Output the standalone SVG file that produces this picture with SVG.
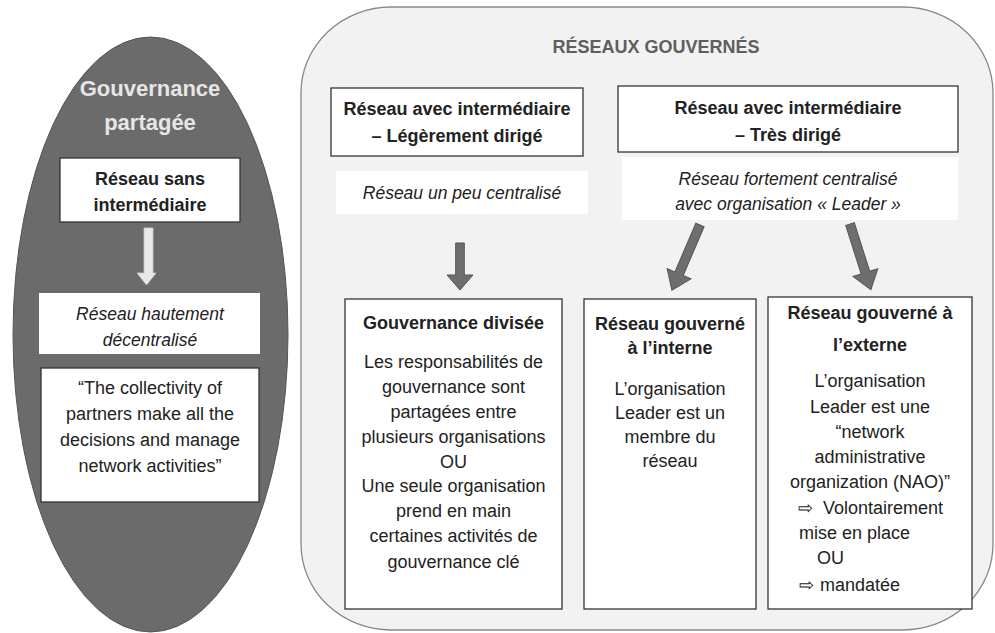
<svg xmlns="http://www.w3.org/2000/svg" width="995" height="633" viewBox="0 0 995 633">
<style>
text{font-family:"Liberation Sans",Arial,sans-serif;font-size:18px;fill:#222;text-anchor:middle}
.b{font-weight:bold}
.i{font-style:italic;font-size:17.5px}
.box{fill:#fff;stroke:#333;stroke-width:1.3}
.wb{fill:#fff;stroke:none}
.da{fill:#6e6e6e;stroke:#555;stroke-width:1}
.la{fill:#e8e8e8;stroke:#ccc;stroke-width:0.8}
.l{text-anchor:start}
</style>
<rect width="995" height="633" fill="#fff"/>
<g id="panel-gouvernes">
<rect x="301" y="7" width="692" height="623" rx="90" ry="86" fill="#f2f2f2" stroke="#888" stroke-width="1.3"/>
<text x="656" y="53" class="b" style="fill:#5f5f5f">RÉSEAUX GOUVERNÉS</text>
</g>
<g id="panel-partagee">
<ellipse cx="150.5" cy="334.5" rx="137.5" ry="297.5" fill="#6b6b6b" stroke="#555" stroke-width="1"/>
<text x="150" y="96" class="b" style="font-size:22px;fill:#e6e6e6">Gouvernance</text>
<text x="150" y="130" class="b" style="font-size:22px;fill:#e6e6e6">partagée</text>
</g>
<g id="n-sans">
<rect class="box" x="60" y="158" width="180" height="64"/>
<text x="150" y="185" class="b">Réseau sans</text>
<text x="150" y="211" class="b">intermédiaire</text>
</g>
<g id="n-decentralise">
<rect class="wb" x="39" y="293" width="221" height="61"/>
<text x="150" y="320" class="i">Réseau hautement</text>
<text x="150" y="346" class="i">décentralisé</text>
</g>
<g id="n-quote">
<rect class="box" x="41" y="368" width="218" height="134"/>
<text x="150" y="394">“The collectivity of</text>
<text x="150" y="420">partners make all the</text>
<text x="150" y="446">decisions and manage</text>
<text x="150" y="472">network activities”</text>
</g>
<g id="n-leger">
<rect class="box" x="331" y="88" width="252" height="68"/>
<text x="457" y="115" class="b">Réseau avec intermédiaire</text>
<text x="457" y="142" class="b">– Légèrement dirigé</text>
</g>
<g id="n-peu">
<rect class="wb" x="336" y="171" width="252" height="43"/>
<text x="462" y="199" class="i">Réseau un peu centralisé</text>
</g>
<g id="n-tres">
<rect class="box" x="618" y="86" width="340" height="66"/>
<text x="788" y="114" class="b">Réseau avec intermédiaire</text>
<text x="788" y="141" class="b">– Très dirigé</text>
</g>
<g id="n-fortement">
<rect class="wb" x="622" y="157" width="336" height="63"/>
<text x="788" y="185" class="i">Réseau fortement centralisé</text>
<text x="788" y="210" class="i">avec organisation « Leader »</text>
</g>
<g id="n-divisee">
<rect class="box" x="345" y="299" width="217" height="310"/>
<text x="453.5" y="329" class="b">Gouvernance divisée</text>
<text x="453.5" y="368">Les responsabilités de</text>
<text x="453.5" y="393">gouvernance sont</text>
<text x="453.5" y="418">partagées entre</text>
<text x="453.5" y="443">plusieurs organisations</text>
<text x="453.5" y="468">OU</text>
<text x="453.5" y="492">Une seule organisation</text>
<text x="453.5" y="517">prend en main</text>
<text x="453.5" y="542">certaines activités de</text>
<text x="453.5" y="568">gouvernance clé</text>
</g>
<g id="n-interne">
<rect class="box" x="584" y="299" width="172" height="310"/>
<text x="670" y="330" class="b">Réseau gouverné</text>
<text x="670" y="354" class="b">à l’interne</text>
<text x="670" y="395">L’organisation</text>
<text x="670" y="419">Leader est un</text>
<text x="670" y="443">membre du</text>
<text x="670" y="467">réseau</text>
</g>
<g id="n-externe">
<rect class="box" x="768" y="297" width="204" height="312"/>
<text x="870" y="319" class="b">Réseau gouverné à</text>
<text x="870" y="351" class="b">l’externe</text>
<text x="870" y="387">L’organisation</text>
<text x="870" y="413">Leader est une</text>
<text x="870" y="438">“network</text>
<text x="870" y="463">administrative</text>
<text x="870" y="488">organization (NAO)”</text>
<text x="798" y="514" class="l">⇨<tspan dx="10">Volontairement</tspan></text>
<text x="799" y="539" class="l">mise en place</text>
<text x="817" y="564" class="l">OU</text>
<text x="799" y="591" class="l">⇨<tspan dx="6">mandatée</tspan></text>
</g>
<g id="connectors">
<polygon class="la" points="144,228 153,228 153,273 156,273 146.5,285 137,273 144,273"/>
<polygon class="da" transform="translate(460,243)" points="-4.3,0 4.3,0 4.3,32 13,32 0,47 -13,32 -4.3,32"/>
<polygon class="da" transform="translate(700,225) rotate(23.3)" points="-4.5,0 4.5,0 4.5,53 13,53 0,71 -13,53 -4.5,53"/>
<polygon class="da" transform="translate(850,224) rotate(-17.6)" points="-4.5,0 4.5,0 4.5,51 13,51 0,69 -13,51 -4.5,51"/>
</g>
</svg>
